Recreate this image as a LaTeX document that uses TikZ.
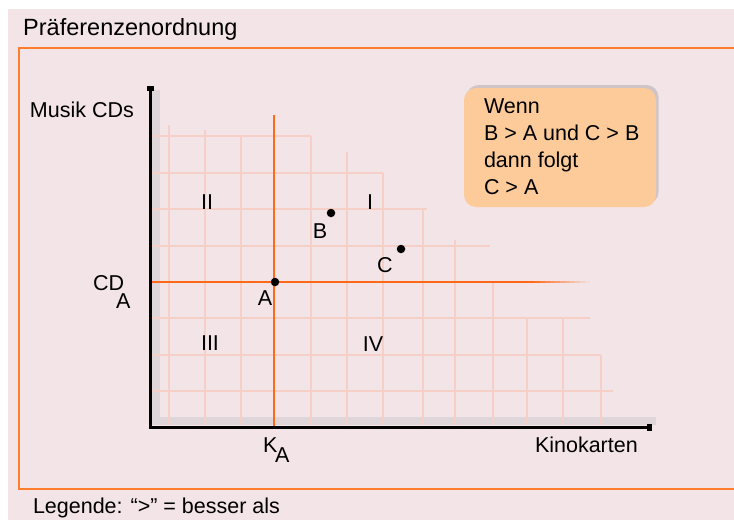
\documentclass[tikz,border=0pt]{standalone}
\usepackage{fontspec}
\setmainfont{Liberation Sans}
\usetikzlibrary{arrows.meta,shadows}
\definecolor{bg}{RGB}{242,228,231}
\definecolor{frameor}{RGB}{255,125,45}
\definecolor{lineor}{RGB}{255,105,25}
\definecolor{gridc}{RGB}{246,207,198}
\definecolor{boxfill}{RGB}{253,203,154}
\definecolor{shadowc}{RGB}{222,214,216}
\begin{document}
\begin{tikzpicture}[x=1pt,y=-1pt,
  lbl/.style={font=\fontsize{21.5}{26}\selectfont, inner sep=0pt, outer sep=0pt},
  titlelbl/.style={font=\fontsize{23.5}{28}\selectfont, inner sep=0pt},
  gridline/.style={gridc, line width=1.5pt},
  axisline/.style={line width=3pt, black},
  orline/.style={lineor, line width=2pt},
  dot/.style={circle, fill=black, inner sep=0pt, minimum size=8.5pt},
  rulebox/.style={rectangle, rounded corners=12pt, fill=boxfill, inner sep=0pt,
    minimum width=192pt, minimum height=119pt,
    drop shadow={shadow xshift=2.5pt, shadow yshift=3pt, opacity=.3, fill=gray}},
  axtip/.tip={Rectangle[length=5pt,width=7pt]}
]
\useasboundingbox (0,0) rectangle (734,520);
\fill[bg] (8,9) rectangle (734,520);
% frame
\draw[frameor, line width=2pt] (734,48) -- (19,48) -- (19,489) -- (734,489);
% title
\node[titlelbl, anchor=base west] (title) at (23,35) {Präferenzenordnung};
% axis shadows
\fill[shadowc] (152,90) rectangle (160,425);
\fill[shadowc] (152,417) rectangle (656,425);
% grid (staircase)
\foreach \yy/\xe in {136/311,173/383,209/427,246/490,318/590,355/601,391/613}
  \draw[gridline] (152,\yy) -- (\xe,\yy);
\foreach \xx/\yt in {169/125,205/130,241/136,311/136,347/152,383/173,423/209,455/240,493/282,527/318,563/318,601/355}
  \draw[gridline] (\xx,\yt) -- (\xx,425);
% orange lines through A
\coordinate (Atop) at (274,115);
\coordinate (Abot) at (274,427);
\coordinate (Aleft) at (152,282);
\coordinate (Aright) at (530,282);
\draw[orline] (Atop) -- (Abot);
\draw[orline] (Aleft) -- (Aright);
\foreach \i in {0,...,11}{
  \pgfmathsetmacro{\pc}{100-\i*8.5}
  \draw[line width=2pt, color=lineor!\pc!bg] (530+\i*5,282) -- (535+\i*5,282);
}
% axes
\coordinate (ytop) at (150,86);
\coordinate (O) at (150,427);
\coordinate (xend) at (652,427);
\draw[axisline, axtip-axtip] (ytop) -- (O) -- (xend);
% points
\node[dot] (A) at (275,282) {};
\node[dot] (B) at (331,213) {};
\node[dot] (C) at (401,249) {};
\node[lbl] (Alab) at (265,298) {A};
\node[lbl] (Blab) at (320,231) {B};
\node[lbl] (Clab) at (385,265) {C};
% quadrants
\node[lbl] (q1) at (370,202) {I};
\node[lbl] (q2) at (207,202) {II};
\node[lbl] (q3) at (210,343) {III};
\node[lbl] (q4) at (373,344) {IV};
% axis labels
\node[lbl, anchor=base west] (ylab) at (30,117) {Musik CDs};
\node[lbl, anchor=base west] (cd) at (93,290) {CD};
\node[lbl, anchor=base west] (cda) at (116,308) {A};
\node[lbl, anchor=base west] (k) at (263,452) {K};
\node[lbl, anchor=base west] (ka) at (275,462) {A};
\node[lbl, anchor=base west] (xlab) at (535,452) {Kinokarten};
% rule box
\node[rulebox] (rule) at (560,147.5) {};
\node[lbl, anchor=base west] (r1) at (484,113) {Wenn};
\node[lbl, anchor=base west] (r2) at (484,140) {B > A und C > B};
\node[lbl, anchor=base west] (r3) at (484,167) {dann folgt};
\node[lbl, anchor=base west] (r4) at (484,194) {C > A};
% legend
\node[lbl, anchor=base west] (leg) at (33,513) {Legende: “>” = besser als};
\end{tikzpicture}
\end{document}
